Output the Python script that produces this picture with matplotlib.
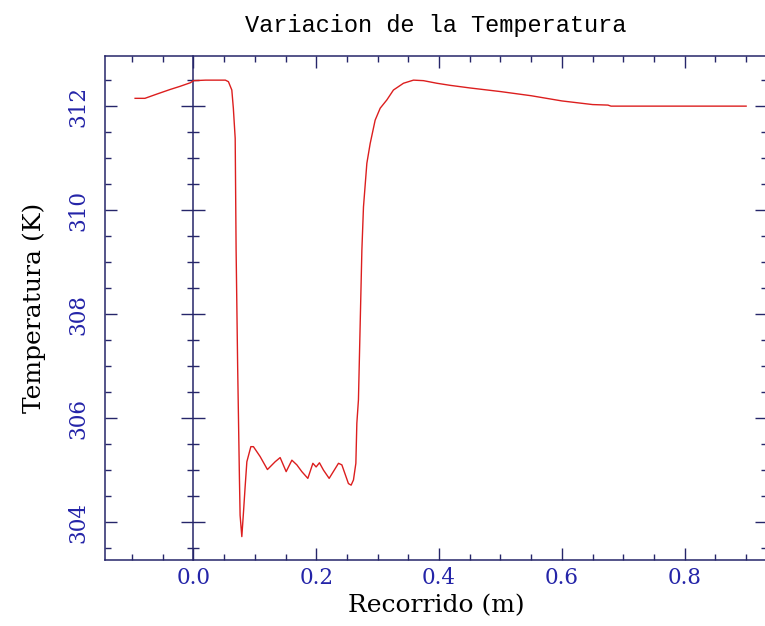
import matplotlib
matplotlib.use("Agg")
import matplotlib.pyplot as plt
from matplotlib.ticker import MultipleLocator

# recorrido (m) y temperatura (K)
recorrido = [
    -0.095, -0.079, -0.060, -0.038, -0.022, -0.005, 0.000, 0.020, 0.052, 0.057,
    0.0625, 0.065, 0.068, 0.0695, 0.072, 0.0749, 0.076, 0.0788, 0.0814, 0.0842,
    0.087, 0.0935, 0.0977, 0.1086, 0.1205, 0.1331, 0.1412, 0.151, 0.1603, 0.1684,
    0.1765, 0.1863, 0.1945, 0.1998, 0.2052, 0.2117, 0.221, 0.2362, 0.2417, 0.2524,
    0.2568, 0.2606, 0.2645, 0.2661, 0.2687, 0.2743, 0.2769, 0.2824, 0.2878, 0.2959,
    0.3041, 0.315, 0.3257, 0.342, 0.3583, 0.3746, 0.3964, 0.418, 0.45, 0.50,
    0.55, 0.60, 0.65, 0.675, 0.68, 0.75, 0.90,
]
temperatura = [
    312.15, 312.15, 312.23, 312.32, 312.38, 312.45, 312.49, 312.50, 312.50, 312.47,
    312.31, 311.96, 311.38, 309.23, 307.00, 304.85, 304.13, 303.72, 304.17, 304.68,
    305.16, 305.45, 305.45, 305.26, 305.01, 305.16, 305.24, 304.97, 305.19, 305.10,
    304.97, 304.84, 305.13, 305.06, 305.14, 305.00, 304.84, 305.13, 305.10, 304.74,
    304.71, 304.81, 305.13, 305.90, 306.35, 309.23, 310.06, 310.90, 311.28, 311.73,
    311.96, 312.12, 312.31, 312.44, 312.50, 312.49, 312.44, 312.40, 312.35, 312.28,
    312.20, 312.10, 312.03, 312.02, 312.00, 312.00, 312.00,
]

x_ticks = [0.0, 0.2, 0.4, 0.6, 0.8]
y_ticks = [304, 306, 308, 310, 312]

AXC = "#26266a"
LBL = "#2424a8"
XLIM = (-0.144, 0.934)
YLIM = (303.27, 312.97)

fig = plt.figure(figsize=(7.65, 6.26), dpi=100)
ax = fig.add_axes([105 / 765, 66 / 626, 662 / 765, 504.3 / 626])
ax.plot(recorrido, temperatura, color="#dc1e1e", lw=1.0, zorder=3)
ax.set_xlim(*XLIM)
ax.set_ylim(*YLIM)

ax.set_xticks(x_ticks)
ax.set_yticks(y_ticks)
ax.xaxis.set_minor_locator(MultipleLocator(0.05))
ax.yaxis.set_minor_locator(MultipleLocator(0.5))
ax.tick_params(which="both", direction="in", top=True, right=True,
               color=AXC, width=1.0)
ax.tick_params(which="major", length=8.5)
ax.tick_params(which="minor", length=4.3)
ax.tick_params(axis="x", labelsize=15.5, labelcolor=LBL, pad=5)
ax.tick_params(axis="y", labelsize=15.5, labelcolor=LBL, pad=11)
for lab in ax.get_yticklabels():
    lab.set_rotation(90)
    lab.set_va("center")
for lab in ax.get_xticklabels() + ax.get_yticklabels():
    lab.set_family("DejaVu Serif")
ax.xaxis.set_major_formatter(plt.FormatStrFormatter("%.1f"))
for s in ax.spines.values():
    s.set_color(AXC)
    s.set_linewidth(1.1)

# eje vertical en x = 0
loc = (0 - XLIM[0]) / (XLIM[1] - XLIM[0])
sec = ax.secondary_yaxis(loc)
sec.set_yticks(y_ticks)
sec.yaxis.set_minor_locator(MultipleLocator(0.5))
sec.tick_params(which="both", direction="inout", color=AXC, width=1.0,
                labelleft=False, labelright=False)
sec.tick_params(which="major", length=17)
sec.tick_params(which="minor", length=8.5)
sec.spines["left"].set_color(AXC)
sec.spines["left"].set_linewidth(1.1)

ax.set_title("Variacion de la Temperatura", family="Liberation Mono",
             fontsize=17, pad=17)
ax.set_xlabel("Recorrido (m)", family="DejaVu Serif", fontsize=18, labelpad=4)
ax.set_ylabel("Temperatura (K)", family="DejaVu Serif", fontsize=18, labelpad=16)

fig.savefig("out.png", dpi=100)
